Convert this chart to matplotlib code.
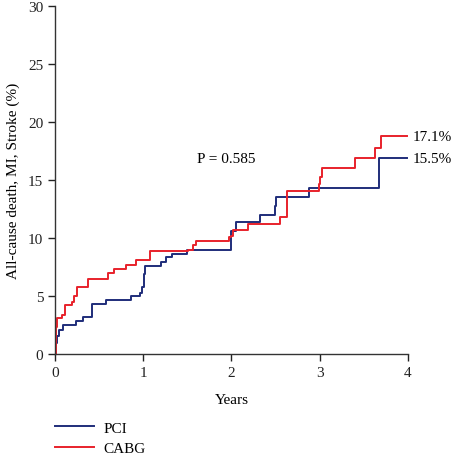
import matplotlib
matplotlib.use("Agg")
import matplotlib.pyplot as plt

plt.rcParams["font.family"] = ["Liberation Serif", "DejaVu Serif"]

# Kaplan-Meier style cumulative incidence (years, %)
pci_t = [0.0, 0.0, 0.019, 0.045, 0.087, 0.238, 0.321, 0.415, 0.578, 0.857, 0.963, 0.982,
         1.008, 1.02, 1.2, 1.254, 1.33, 1.5, 1.994, 2.0, 2.05, 2.32, 2.49, 2.50, 2.88, 3.67, 3.985]
pci_v = [0.0, 1.0, 1.6, 2.07, 2.5, 2.84, 3.16, 4.3, 4.65, 5.0, 5.3, 5.75,
         6.9, 7.6, 7.96, 8.33, 8.65, 9.0, 9.9, 10.6, 11.35, 12.0, 12.8, 13.56, 14.28, 16.9, 16.9]

cabg_t = [0.0, 0.011, 0.026, 0.076, 0.113, 0.189, 0.215, 0.245, 0.378, 0.604, 0.672, 0.805,
          0.918, 1.076, 1.51, 1.56, 1.594, 1.97, 2.0, 2.013, 2.19, 2.55, 2.625, 2.99, 3.0,
          3.03, 3.40, 3.626, 3.70, 3.985]
cabg_v = [0.0, 2.3, 3.08, 3.4, 4.2, 4.5, 5.0, 5.75, 6.5, 7.0, 7.35, 7.7,
          8.1, 8.9, 9.0, 9.4, 9.74, 10.06, 10.2, 10.7, 11.2, 11.84, 14.08, 14.66, 15.3,
          16.03, 16.87, 17.76, 18.77, 18.77]

end_labels = ["17.1%", "15.5%"]
p_text = "P = 0.585"

blue = "#1f2d7a"
red = "#e8212b"

fig = plt.figure(figsize=(4.53, 4.60), dpi=100)
ax = fig.add_axes([0.1214, 0.228, 0.779, 0.7565])

ax.step(pci_t, pci_v, where="post", color=blue, lw=1.4, label="PCI")
ax.step(cabg_t, cabg_v, where="post", color=red, lw=1.4, label="CABG")

ax.set_xlim(0, 4)
ax.set_ylim(0, 30)
ax.set_xticks([0, 1, 2, 3, 4])
ax.set_yticks([0, 5, 10, 15, 20, 25, 30])
ax.tick_params(direction="out", length=5, width=1, labelsize=11, colors="#222222")
for s in ["top", "right"]:
    ax.spines[s].set_visible(False)
for s in ["left", "bottom"]:
    ax.spines[s].set_color("#333333")
    ax.spines[s].set_linewidth(1)

ax.set_xlabel("Years", fontsize=11, labelpad=10)
ax.set_ylabel("All-cause death, MI, Stroke (%)", fontsize=11, labelpad=6)

ax.text(1.94, 16.9, p_text, fontsize=11, ha="center", va="center")
ax.text(4.05, cabg_v[-1], end_labels[0], fontsize=11, ha="left", va="center", clip_on=False)
ax.text(4.05, pci_v[-1], end_labels[1], fontsize=11, ha="left", va="center", clip_on=False)

fig.legend(loc="lower left", bbox_to_anchor=(0.09, -0.022), frameon=False, fontsize=11,
           handlelength=2.6, labelspacing=0.45, handletextpad=0.6)

fig.savefig("out.png", dpi=100)
